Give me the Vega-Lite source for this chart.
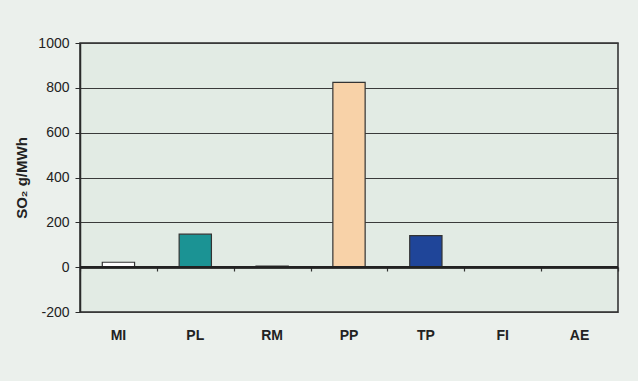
{
  "$schema": "https://vega.github.io/schema/vega-lite/v6.json",
  "width": 538,
  "height": 269,
  "autosize": "none",
  "padding": {"left": 80, "top": 43, "right": 20, "bottom": 69},
  "background": "#ebf0ec",
  "config": {
    "font": "Liberation Sans",
    "view": {"fill": "#e2ebe4", "stroke": "#2a2a2a", "strokeWidth": 1.5}
  },
  "data": {
    "values": [
      {"tech": "MI", "so2": 22, "color": "#ffffff"},
      {"tech": "PL", "so2": 147, "color": "#1b9394"},
      {"tech": "RM", "so2": 5, "color": "#333333"},
      {"tech": "PP", "so2": 824, "color": "#f8d2a8"},
      {"tech": "TP", "so2": 141, "color": "#1f4599"},
      {"tech": "FI", "so2": 0, "color": "#cccccc"},
      {"tech": "AE", "so2": 0, "color": "#cccccc"}
    ]
  },
  "resolve": {"axis": {"x": "independent"}},
  "layer": [
    {
      "mark": {"type": "bar", "width": {"band": 0.42}, "stroke": "#333333", "strokeWidth": 1.2},
      "encoding": {
        "x": {
          "field": "tech",
          "type": "nominal",
          "sort": null,
          "scale": {"paddingInner": 0, "paddingOuter": 0},
          "axis": {
            "orient": "bottom",
            "offset": -45,
            "title": null,
            "labels": false,
            "domain": false,
            "grid": false,
            "ticks": true,
            "tickBand": "extent",
            "tickSize": 4,
            "tickColor": "#333333",
            "tickWidth": 1.2
          }
        },
        "y": {
          "field": "so2",
          "type": "quantitative",
          "scale": {"domain": [-200, 1000], "nice": false, "zero": false},
          "axis": {
            "title": "SO₂ g/MWh",
            "titleFontSize": 15,
            "titleFontWeight": "bold",
            "titleColor": "#222222",
            "titlePadding": 8,
            "values": [-200, 0, 200, 400, 600, 800, 1000],
            "labelExpr": "'' + datum.value",
            "labelFontSize": 14,
            "labelColor": "#222222",
            "labelPadding": 6,
            "tickSize": 5,
            "tickColor": "#2a2a2a",
            "domainColor": "#2a2a2a",
            "domainWidth": 1.5,
            "grid": true,
            "gridColor": "#3a3a3a",
            "gridWidth": 1.2
          }
        },
        "fill": {"field": "color", "type": "nominal", "scale": null}
      }
    },
    {
      "mark": {"type": "rule", "color": "#222222", "strokeWidth": 2},
      "encoding": {
        "y": {"datum": 0, "type": "quantitative"}
      }
    },
    {
      "mark": {"type": "point", "opacity": 0},
      "encoding": {
        "x": {
          "field": "tech",
          "type": "nominal",
          "sort": null,
          "axis": {
            "orient": "bottom",
            "title": null,
            "domain": false,
            "ticks": false,
            "grid": false,
            "labelAngle": 0,
            "labelFontSize": 14,
            "labelFontWeight": "bold",
            "labelColor": "#222222",
            "labelPadding": 16
          }
        }
      }
    }
  ]
}
